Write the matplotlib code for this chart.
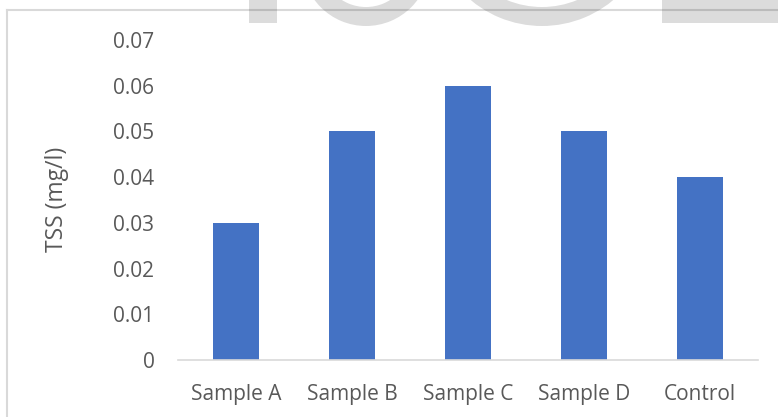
import matplotlib
matplotlib.use("Agg")

import matplotlib.pyplot as plt
from matplotlib.patches import Rectangle, Annulus

plt.rcParams["font.family"] = ["Open Sans", "DejaVu Sans"]

# TSS per sample
categories = ["Sample A", "Sample B", "Sample C", "Sample D", "Control"]
tss_values = [0.03, 0.05, 0.06, 0.05, 0.04]
y_ticks = [0, 0.01, 0.02, 0.03, 0.04, 0.05, 0.06, 0.07]

W, H = 778, 417
BAR_COLOR = "#4472C4"
TEXT_COLOR = "#595959"
FS = 15

fig = plt.figure(figsize=(W / 100, H / 100), dpi=100)

# overlay in pixel coords for frame and watermark
over = fig.add_axes([0, 0, 1, 1], zorder=5)
over.set_xlim(0, W)
over.set_ylim(H, 0)
over.axis("off")
over.patch.set_alpha(0)

# chart frame (only top and left edges fall inside the image)
frame = fig.add_axes([0, 0, 1, 1], zorder=0)
frame.set_xlim(0, W)
frame.set_ylim(H, 0)
frame.axis("off")
frame.plot([7, W], [10, 10], color="#d9d9d9", lw=1.5)
frame.plot([7, 7], [10, H], color="#d9d9d9", lw=1.5)

# plot area
ax = fig.add_axes([178 / W, (H - 360) / H, (758 - 178) / W, (360 - 40) / H], zorder=2)
x = range(len(categories))
ax.bar(x, tss_values, width=0.4, color=BAR_COLOR, zorder=2)
ax.set_xlim(-0.5, len(categories) - 0.5)
ax.set_ylim(0, 0.07)
ax.set_yticks(y_ticks)
ax.set_yticklabels(["0" if v == 0 else f"{v:.2f}" for v in y_ticks])
ax.set_xticks(list(x))
ax.set_xticklabels(categories)
ax.tick_params(axis="both", length=0, labelsize=FS, colors=TEXT_COLOR)
ax.tick_params(axis="y", pad=17)
ax.tick_params(axis="x", pad=17)
for side in ["top", "right", "left"]:
    ax.spines[side].set_visible(False)
ax.spines["bottom"].set_color("#d9d9d9")
ax.spines["bottom"].set_linewidth(1.2)
ax.patch.set_alpha(0)

fig.text(57 / W, 1 - 199 / H, "TSS (mg/l)", rotation=90, ha="center", va="center",
         fontsize=16.5, color=TEXT_COLOR)

# watermark letters, cut off at the top edge
wm = dict(facecolor="black", alpha=0.137, edgecolor="none")
over.add_patch(Rectangle((249, -40), 28, 63, **wm))
over.add_patch(Annulus((366, -38), 64, 19, **wm))
over.add_patch(Annulus((542, -85), 111, 19, **wm))
over.add_patch(Rectangle((662, -40), 130, 63, **wm))

fig.savefig("out.png", dpi=100, facecolor="white")
